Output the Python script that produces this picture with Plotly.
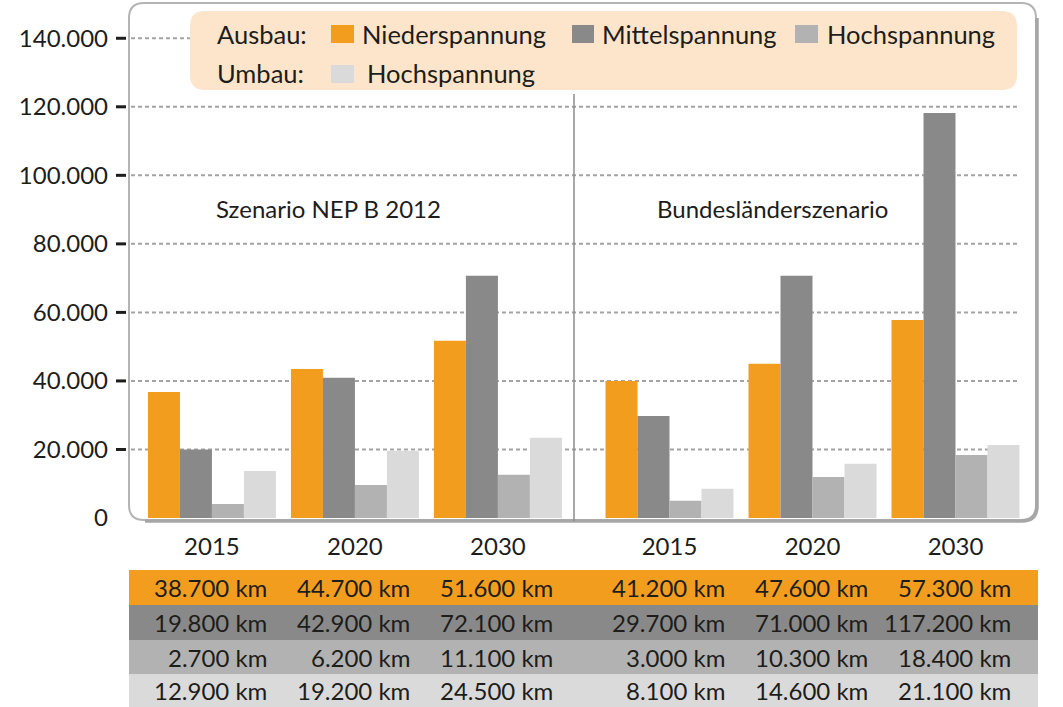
import plotly.graph_objects as go

# ---------------- data ----------------
years = ["2015", "2020", "2030", "2015", "2020", "2030"]
scenario = [0, 0, 0, 1, 1, 1]
scenario_titles = ["Szenario NEP B 2012", "Bundesländerszenario"]

series_names = ["Niederspannung", "Mittelspannung", "Hochspannung", "Hochspannung (Umbau)"]
# bar heights as drawn in the chart
nieder_bar = [36800, 43500, 51700, 40000, 45000, 57800]
mittel_bar = [20000, 40900, 70700, 29800, 70700, 118200]
hoch_bar = [4100, 9600, 12600, 5000, 12000, 18400]
umbau_bar = [13700, 19600, 23400, 8500, 15800, 21300]

# values printed in the table below the chart (km)
nieder_tab = [38700, 44700, 51600, 41200, 47600, 57300]
mittel_tab = [19800, 42900, 72100, 29700, 71000, 117200]
hoch_tab = [2700, 6200, 11100, 3000, 10300, 18400]
umbau_tab = [12900, 19200, 24500, 8100, 14600, 21100]

y_ticks = [0, 20000, 40000, 60000, 80000, 100000, 120000, 140000]

# ---------------- styling ----------------
colors = ["#F39D1F", "#898989", "#B2B2B2", "#DADADA"]
FONT = "Lato"
TXT = "#1d1d1b"
W, H = 1063, 707
ML, MR, MT, MB = 129, 25, 4, 0
PW = W - ML - MR
PH = H - MT - MB
GAP = 0.2


def PX(x):
    return (x - ML) / PW


def PY(y):
    return (H - MB - y) / PH


def fmt(v):
    return f"{v:,}".replace(",", ".")


positions = [i + GAP * s for i, s in enumerate(scenario)]

fig = go.Figure()
for name, vals, col in zip(series_names, [nieder_bar, mittel_bar, hoch_bar, umbau_bar], colors):
    fig.add_trace(go.Bar(x=positions, y=vals, name=name, marker=dict(color=col, line=dict(width=0)),
                         showlegend=False, hoverinfo="y+name"))

shapes = []
annotations = []

# gridlines (dashed), not at 0
for t in y_ticks[1:]:
    shapes.append(dict(type="line", xref="paper", yref="y", x0=PX(131), x1=PX(1020), y0=t, y1=t,
                       line=dict(color="#A3A3A3", width=2, dash="4px,3px"), layer="below"))
    shapes.append(dict(type="line", xref="paper", yref="y", x0=PX(116), x1=PX(126), y0=t, y1=t,
                       line=dict(color=TXT, width=3)))


def rrect(x0, y0, x1, y1, r):
    pts = [("M", x0 + r, y0), ("L", x1 - r, y0), ("Q", x1, y0, x1, y0 + r), ("L", x1, y1 - r),
           ("Q", x1, y1, x1 - r, y1), ("L", x0 + r, y1), ("Q", x0, y1, x0, y1 - r), ("L", x0, y0 + r),
           ("Q", x0, y0, x0 + r, y0)]
    s = ""
    for p in pts:
        cmd = p[0]
        coords = p[1:]
        parts = []
        for i in range(0, len(coords), 2):
            parts.append(f"{PX(coords[i]):.5f},{PY(coords[i+1]):.5f}")
        s += cmd + " " + " ".join(parts) + " "
    return s + "Z"


# plot frame
shapes.append(dict(type="path", xref="paper", yref="paper", path=rrect(129, 3, 1036, 520, 15),
                   line=dict(color="#B4B4B4", width=2), fillcolor="rgba(0,0,0,0)", layer="below"))
# shadow on right/bottom
x1, y1, r = 1037, 521, 15
shadow = (f"M {PX(x1):.5f},{PY(18):.5f} L {PX(x1):.5f},{PY(y1 - r):.5f} "
          f"Q {PX(x1):.5f},{PY(y1):.5f} {PX(x1 - r):.5f},{PY(y1):.5f} L {PX(145):.5f},{PY(y1):.5f}")
shapes.append(dict(type="path", xref="paper", yref="paper", path=shadow,
                   line=dict(color="#A6A6A6", width=3.5), layer="below"))

# divider between scenarios
shapes.append(dict(type="line", xref="paper", yref="paper", x0=PX(574), x1=PX(574), y0=PY(94), y1=PY(521),
                   line=dict(color="#8C8C8C", width=1.5)))

# legend box
shapes.append(dict(type="path", xref="paper", yref="paper", path=rrect(190, 11, 1017, 90, 15),
                   line=dict(width=0), fillcolor="#FCE5CB", layer="above"))

legend_rows = [
    (34, "Ausbau:", [(331, 354, 25, 43, colors[0], 363, "Niederspannung"),
                     (572, 594, 25, 43, colors[1], 603, "Mittelspannung"),
                     (795, 818, 25, 43, colors[2], 828, "Hochspannung")]),
    (73, "Umbau:", [(331, 354, 65, 83, colors[3], 368, "Hochspannung")]),
]
for yc, label, items in legend_rows:
    annotations.append(dict(xref="paper", yref="paper", x=PX(215), y=PY(yc), text=label, showarrow=False,
                            xanchor="left", yanchor="middle", font=dict(family=FONT, size=25.5, color=TXT)))
    for (sx0, sx1, sy0, sy1, col, tx, txt) in items:
        shapes.append(dict(type="rect", xref="paper", yref="paper", x0=PX(sx0), x1=PX(sx1), y0=PY(sy1), y1=PY(sy0),
                           line=dict(width=0), fillcolor=col, layer="above"))
        annotations.append(dict(xref="paper", yref="paper", x=PX(tx - 3), y=PY(yc), text=txt, showarrow=False,
                                xanchor="left", yanchor="middle", font=dict(family=FONT, size=25.5, color=TXT)))

# scenario titles
for cx, t in zip([328, 772], scenario_titles):
    annotations.append(dict(xref="paper", yref="paper", x=PX(cx), y=PY(208), text=t, showarrow=False,
                            xanchor="center", yanchor="middle", font=dict(family=FONT, size=24, color=TXT)))

# table below the chart
row_bounds = [(570, 605), (605, 640), (640, 674), (674, 707)]
for (r0, r1), col, vals in zip(row_bounds, colors, [nieder_tab, mittel_tab, hoch_tab, umbau_tab]):
    shapes.append(dict(type="rect", xref="paper", yref="paper", x0=PX(129), x1=PX(1038), y0=PY(r1), y1=PY(r0),
                       line=dict(width=0), fillcolor=col, layer="below"))
    for p, v in zip(positions, vals):
        annotations.append(dict(xref="x", yref="paper", x=p + 0.40, y=PY((r0 + r1) / 2), text=fmt(v) + " km",
                                showarrow=False, xanchor="right", yanchor="middle",
                                font=dict(family=FONT, size=24, color=TXT)))

fig.update_layout(
    width=W, height=H,
    margin=dict(l=ML, r=MR, t=MT, b=MB, autoexpand=False),
    paper_bgcolor="white", plot_bgcolor="rgba(0,0,0,0)",
    barmode="group", bargap=0.105, bargroupgap=0,
    shapes=shapes, annotations=annotations,
    font=dict(family=FONT, size=23, color=TXT),
    xaxis=dict(range=[-0.58, 5.777], tickmode="array", tickvals=positions, ticktext=years,
               showgrid=False, zeroline=False, showline=False, ticks="", ticklabelstandoff=12,
               tickfont=dict(family=FONT, size=24, color=TXT)),
    yaxis=dict(domain=[PY(518), 1], range=[0, 150000], tickmode="array", tickvals=y_ticks,
               ticktext=[fmt(t) for t in y_ticks], showgrid=False, zeroline=False, showline=False,
               ticks="", ticklabelstandoff=20, tickfont=dict(family=FONT, size=24, color=TXT)),
)

fig.write_html(
    "out.html",
    config={"displayModeBar": False},
    post_script="document.body.style.margin='0px';document.body.style.padding='0px';"
                "document.documentElement.style.overflow='hidden';",
)
